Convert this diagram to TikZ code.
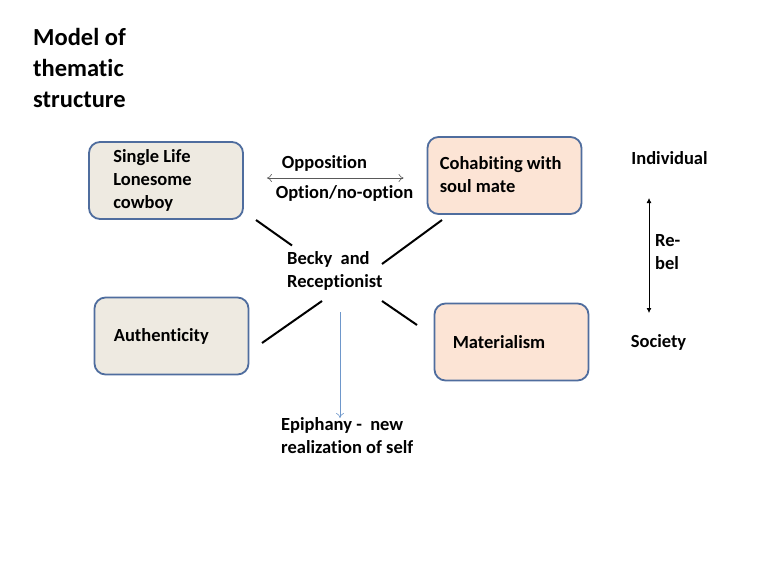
\documentclass[tikz,border=0pt]{standalone}
\usepackage{fontspec}
\setmainfont{Carlito}[RawFeature=-liga]
\usetikzlibrary{arrows.meta}
\definecolor{boxblue}{HTML}{4F6D9E}
\definecolor{beige}{HTML}{EEEAE1}
\definecolor{peach}{HTML}{FCE4D5}
\definecolor{arrowblue}{HTML}{6E97CB}
\tikzset{
  box/.style={draw=boxblue,fill=#1,line width=1.8pt,rounded corners=11pt,minimum width=154pt,minimum height=77pt},
  txt/.style={font=\fontsize{18.5}{23}\selectfont\bfseries,align=left,inner sep=0pt,anchor=west},
  spoke/.style={line width=2pt},
}
\begin{document}
\begin{tikzpicture}[x=1pt,y=-1pt,>=stealth]
\useasboundingbox (0,0) rectangle (760,570);
% title
\node[txt,font=\fontsize{24.5}{31}\selectfont\bfseries] (title) at (33,68) {Model of\\thematic\\structure};
% the four boxes
\node[box=beige] (single) at (166,180.5) {};
\node[box=peach] (cohab) at (504.5,175.5) {};
\node[box=beige] (auth) at (171.5,336) {};
\node[box=peach] (mat) at (511.5,342) {};
\node[txt] (singletxt) at ([xshift=25pt]single.west) {Single Life\\Lonesome\\cowboy};
\node[txt] (cohabtxt) at ([shift={(13,-1)}]cohab.west) {Cohabiting with\\soul mate};
\node[txt] (authtxt) at ([xshift=20pt]auth.west) {Authenticity};
\node[txt] (mattxt) at ([xshift=19pt]mat.west) {Materialism};
% opposition
\node[txt,anchor=center] (opp) at (324.5,163) {Opposition};
\node[txt,anchor=center] (opt) at (344.5,193) {Option/no-option};
\draw[{To[length=5pt,width=8pt]}-{To[length=5pt,width=8pt]},gray!70!black,line width=0.6pt]
  ([shift={(23,-2.5)}]single.east) -- ([shift={(-23,2.5)}]cohab.west);
% centre
\node[txt] (becky) at (287,270.5) {Becky\ \ and\\Receptionist};
\draw[spoke] ([shift={(90,39.5)}]single.center) -- ([shift={(5,-25)}]becky.west);
\draw[spoke] ([shift={(-62.5,44.5)}]cohab.center) -- ([shift={(95,-6.5)}]becky.west);
\draw[spoke] ([shift={(35,30.5)}]becky.west) -- ([shift={(90.5,7)}]auth.center);
\draw[spoke] ([shift={(95,30.5)}]becky.west) -- ([shift={(-94.5,-17)}]mat.center);
% epiphany
\node[txt] (epi) at (281,435.5) {Epiphany\ -\ \ new\\realization of self};
\draw[-{To[length=5pt,width=8pt]},arrowblue,line width=0.6pt] ([shift={(53,41.5)}]becky.west) -- ([shift={(59,-17.5)}]epi.west);
% individual / society
\node[txt,anchor=center] (indiv) at (669.5,158) {Individual};
\node[txt,anchor=center] (soc) at (658.5,342) {Society};
\node[txt] (rebel) at (655,252.5) {Re-\\bel};
\draw[{Latex[length=5pt,width=5pt]}-{Latex[length=5pt,width=5pt]},line width=0.8pt]
  ([shift={(-20.5,40)}]indiv.center) -- ([shift={(-9.5,-29)}]soc.center);
\end{tikzpicture}
\end{document}
